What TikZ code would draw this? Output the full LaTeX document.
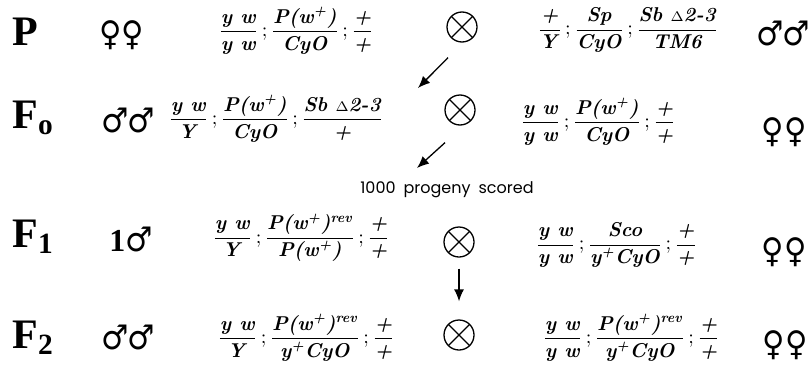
\documentclass[tikz,border=0pt]{standalone}
\usepackage{amsmath}
\usepackage{graphicx}
\usepackage{fontspec}
\usetikzlibrary{positioning,arrows.meta,calc}
\newfontfamily\sexfont{DejaVu Sans}
\newfontfamily\genfont{Liberation Serif}
\newfontfamily\notefont{Poppins}
\newcommand{\gtype}[1]{\textbf{\textit{#1}}}
\newcommand{\gfrac}[2]{\dfrac{\gtype{#1}}{\gtype{#2}}}
\newcommand{\wplus}{w\textsuperscript{+}}
\newcommand{\rev}{\textsuperscript{rev}}
\newcommand{\dlt}{{\scriptsize$\Delta$}}
\newcommand{\twofem}{\scalebox{0.9}[1]{♀♀}}
\newcommand{\twomale}{\scalebox{0.9}[1]{♂\kern-1pt♂}}

\begin{document}
\begin{tikzpicture}[
  x=0.5pt, y=-0.5pt,
  gen/.style={anchor=base west, inner sep=0pt, font=\genfont\bfseries\fontsize{21}{24}\selectfont},
  sex/.style={inner sep=0pt, font=\sexfont\fontsize{17}{19}\selectfont},
  geno/.style={anchor=west, inner sep=0pt, font=\fontsize{10}{12}\selectfont},
  cross/.style={circle, draw, line width=0.65pt, minimum size=15pt, inner sep=0pt,
                path picture={\draw[line width=0.65pt]
                  (path picture bounding box.north west) -- (path picture bounding box.south east)
                  (path picture bounding box.north east) -- (path picture bounding box.south west);}},
  arr/.style={-{Latex[length=6pt, width=5pt]}, line width=0.65pt},
  note/.style={inner sep=0pt, font=\notefont\fontsize{8}{9}\selectfont},
]
\useasboundingbox (0,0) rectangle (812,364);

% P
\node[gen] (genP) at (12,45) {P};
\node[sex] (sexPl) at (122,35) {\twofem};
\node[geno] (genoPl) at (218,31) {$\gfrac{y w}{y w}\,;\gfrac{P(\wplus)}{CyO}\,;\gfrac{+}{+}$};
\node[cross] (xP) at (462,27) {};
\node[geno] (genoPr) at (537,30) {$\gfrac{+}{Y}\,;\gfrac{Sp}{CyO}\,;\gfrac{Sb \dlt2-3}{TM6}$};
\node[sex] (sexPr) at (783,33) {\twomale};

% F0
\node[gen] (genF0) at (12,128) {F\textsubscript{o}};
\node[sex] (sexF0l) at (128,120) {\twomale};
\node[geno] (genoF0l) at (168,119) {$\gfrac{y w}{Y}\,;\gfrac{P(\wplus)}{CyO}\,;\gfrac{Sb \dlt2-3}{+}$};
\node[cross] (xF0) at (460,110) {};
\node[geno] (genoF0r) at (520,122) {$\gfrac{y w}{y w}\,;\gfrac{P(\wplus)}{CyO}\,;\gfrac{+}{+}$};
\node[sex] (sexF0r) at (784,132) {\twofem};

\node[note] (score) at (447,190) {1000\hspace{0.5em}progeny\hspace{0.5em}scored};

% F1
\node[gen] (genF1) at (12,247) {F\textsubscript{1}};
\node[sex] (sexF1l) at (131,239) {{\genfont\bfseries\fontsize{16}{18}\selectfont 1}\scalebox{0.9}[1]{♂}};
\node[geno] (genoF1l) at (212,238) {$\gfrac{y w}{Y}\,;\gfrac{P(\wplus)\rev}{P(\wplus)}\,;\gfrac{+}{+}$};
\node[cross] (xF1) at (459,242) {};
\node[geno] (genoF1r) at (535,245) {$\gfrac{y w}{y w}\,;\gfrac{Sco}{y\textsuperscript{+}CyO}\,;\gfrac{+}{+}$};
\node[sex] (sexF1r) at (784,252) {\twofem};

% F2
\node[gen] (genF2) at (12,348) {F\textsubscript{2}};
\node[sex] (sexF2l) at (128,337) {\twomale};
\node[geno] (genoF2l) at (217,338) {$\gfrac{y w}{Y}\,;\gfrac{P(\wplus)\rev}{y\textsuperscript{+}CyO}\,;\gfrac{+}{+}$};
\node[cross] (xF2) at (459,335) {};
\node[geno] (genoF2r) at (542,338) {$\gfrac{y w}{y w}\,;\gfrac{P(\wplus)\rev}{y\textsuperscript{+}CyO}\,;\gfrac{+}{+}$};
\node[sex] (sexF2r) at (785,345) {\twofem};

% Arrows
\coordinate (tipF0) at (418,88);
\coordinate (tipNote) at (417,168);
\draw[arr] ([xshift=-7pt, yshift=-7.5pt]xP.south) -- (tipF0);
\draw[arr] ([xshift=-7.5pt, yshift=-8.5pt]xF0.south) -- (tipNote);
\draw[arr, shorten <=5.5pt, shorten >=9pt] (xF1) -- (xF2);
\end{tikzpicture}
\end{document}
